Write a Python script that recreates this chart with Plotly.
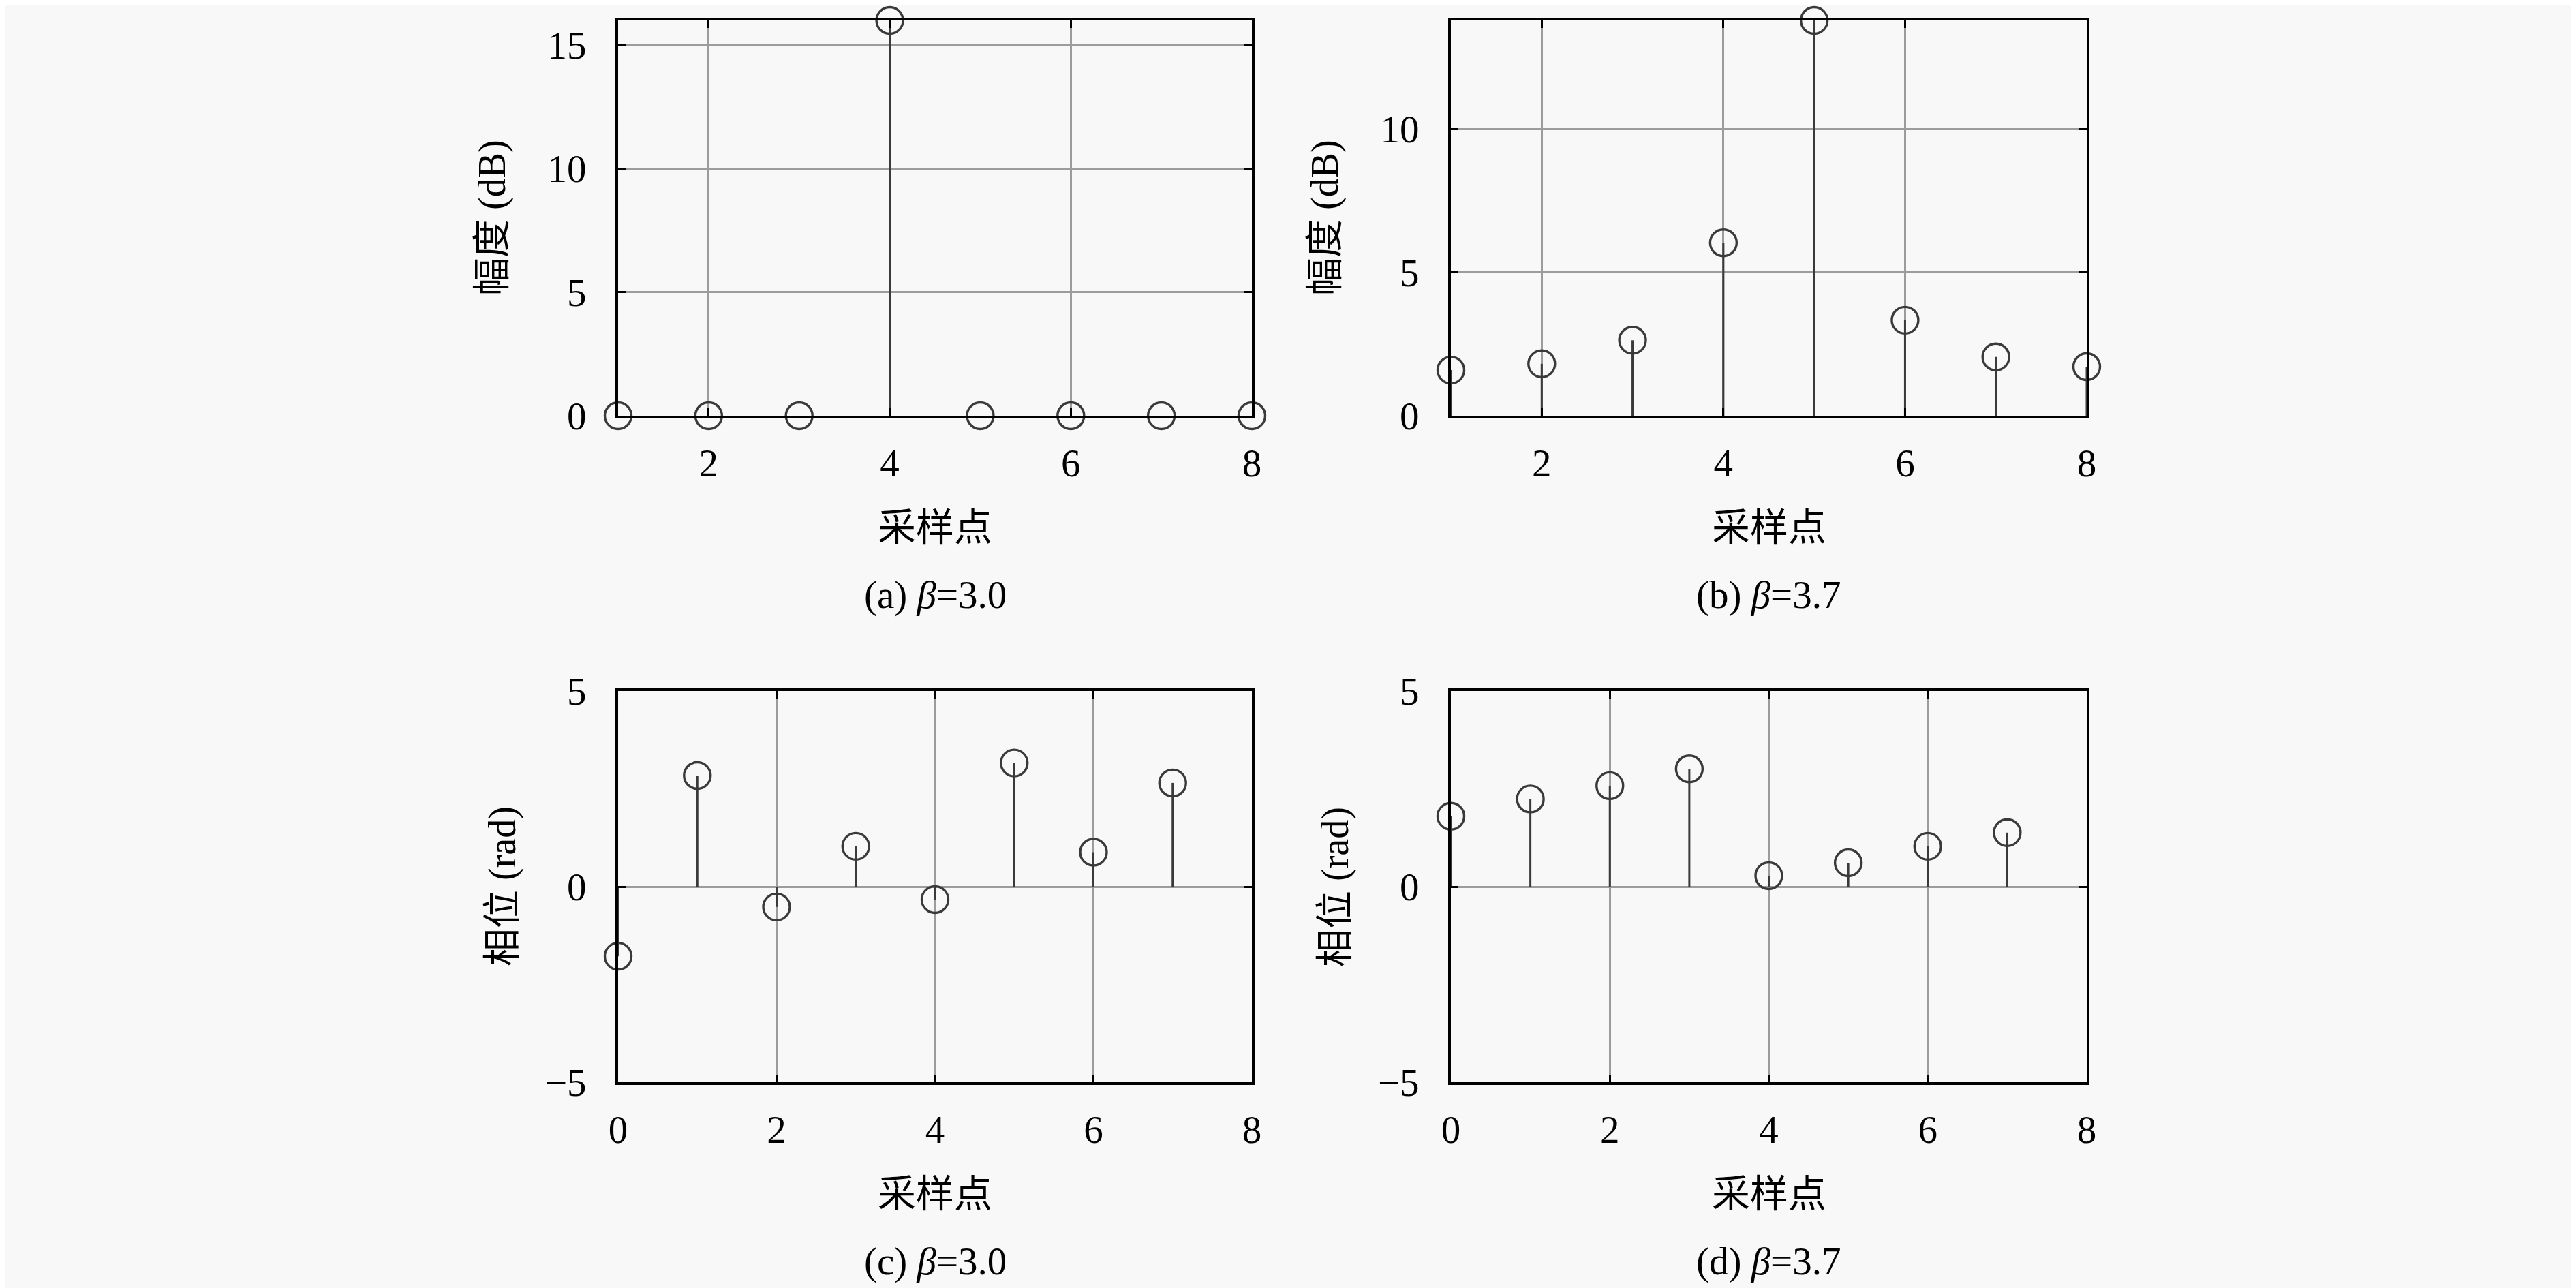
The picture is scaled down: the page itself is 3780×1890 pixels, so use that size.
import plotly.graph_objects as go

# ---------------- data ----------------
mag_x = [1, 2, 3, 4, 5, 6, 7, 8]
mag_a = [0.0, 0.0, 0.0, 16.0, 0.0, 0.0, 0.0, 0.0]
mag_b = [1.59, 1.81, 2.63, 6.03, 13.78, 3.33, 2.05, 1.71]
phase_x = [0, 1, 2, 3, 4, 5, 6, 7]
phase_c = [-1.78, 2.84, -0.52, 1.03, -0.33, 3.16, 0.88, 2.65]
phase_d = [1.80, 2.24, 2.58, 3.01, 0.28, 0.61, 1.03, 1.38]

mag_yticks = [0, 5, 10, 15]
mag_xticks = [2, 4, 6, 8]
phase_yticks = [-5, 0, 5]
phase_xticks = [0, 2, 4, 6, 8]

xlabel = "采样点"
ylabel_mag = "幅度 (dB)"
ylabel_phase = "相位 (rad)"
captions = ["(a) <i>β</i>=3.0", "(b) <i>β</i>=3.7", "(c) <i>β</i>=3.0", "(d) <i>β</i>=3.7"]

# ---------------- layout constants ----------------
OFF = 8                      # default page body margin
W, H = 3780 - OFF, 1890 - OFF
BG = "#f8f8f8"
FONT = "Liberation Serif, Noto Sans CJK SC, serif"
STEM = "#3a3a3a"
GRID = "#9c9c9c"

# pixel boxes in page coordinates (left, right, top, bottom)
boxes = [
    (907, 1837, 30, 610),
    (2129, 3062, 30, 610),
    (907, 1837, 1014, 1588),
    (2129, 3062, 1014, 1588),
]

panels = [
    (mag_x, mag_a, [1, 8], [0, 16.0], mag_xticks, mag_yticks, ylabel_mag, False),
    (mag_x, mag_b, [1, 8], [0, 13.78], mag_xticks, mag_yticks, ylabel_mag, False),
    (phase_x, phase_c, [0, 8], [-5, 5], phase_xticks, phase_yticks, ylabel_phase, True),
    (phase_x, phase_d, [0, 8], [-5, 5], phase_xticks, phase_yticks, ylabel_phase, True),
]


def px_x(p):
    return (p - OFF) / W


def px_y(p):
    return 1 - (p - OFF) / H


fig = go.Figure()
annotations = []

for i, (px, py, xr, yr, xt, yt, ylab, zl) in enumerate(panels):
    n = i + 1
    xa = "x" if n == 1 else f"x{n}"
    ya = "y" if n == 1 else f"y{n}"
    # stems built from the data
    sx, sy = [], []
    for xv, yv in zip(px, py):
        sx += [xv, xv, None]
        sy += [0, yv, None]
    fig.add_trace(go.Scatter(x=sx, y=sy, mode="lines", xaxis=xa, yaxis=ya,
                             line=dict(color=STEM, width=3), showlegend=False,
                             hoverinfo="skip", cliponaxis=False))
    fig.add_trace(go.Scatter(x=px, y=py, mode="markers", xaxis=xa, yaxis=ya,
                             marker=dict(symbol="circle-open", size=39, color=STEM,
                                         line=dict(color=STEM, width=3.4)),
                             showlegend=False, cliponaxis=False))

    l, r, t, b = boxes[i]
    xdom = [px_x(l), px_x(r)]
    ydom = [px_y(b), px_y(t)]
    axcommon = dict(showline=True, linecolor="black", linewidth=4, mirror="ticks",
                    ticks="inside", ticklen=11, tickwidth=3, tickcolor="black",
                    showgrid=True, gridcolor=GRID, gridwidth=3, automargin=False,
                    tickfont=dict(family=FONT, size=57, color="black"))
    xkey = "xaxis" if n == 1 else f"xaxis{n}"
    ykey = "yaxis" if n == 1 else f"yaxis{n}"
    fig.update_layout(**{
        xkey: dict(axcommon, domain=xdom, range=xr, tickvals=xt, anchor=ya,
                   zeroline=False, ticklabelstandoff=17),
        ykey: dict(axcommon, domain=ydom, range=yr, tickvals=yt, anchor=xa,
                   zeroline=zl, zerolinecolor=GRID, zerolinewidth=3,
                   ticklabelstandoff=31),
    })

    cx = (l + r) / 2
    annotations.append(dict(text=xlabel, x=px_x(cx), y=px_y(b + 164), xref="paper", yref="paper",
                            showarrow=False, xanchor="center", yanchor="middle",
                            font=dict(family=FONT, size=56, color="black")))
    annotations.append(dict(text=captions[i], x=px_x(cx), y=px_y(b + 263), xref="paper", yref="paper",
                            showarrow=False, xanchor="center", yanchor="middle",
                            font=dict(family=FONT, size=57, color="black")))
    yoff = 184 if i < 2 else 170
    annotations.append(dict(text=ylab, x=px_x(l - yoff), y=px_y((t + b) / 2), xref="paper", yref="paper",
                            showarrow=False, xanchor="center", yanchor="middle", textangle=-90,
                            font=dict(family=FONT, size=56, color="black")))

fig.update_layout(width=W, height=H, margin=dict(l=0, r=0, t=0, b=0, pad=0, autoexpand=False),
                  paper_bgcolor=BG, plot_bgcolor=BG, annotations=annotations,
                  showlegend=False)

fig.write_html("out.html")
